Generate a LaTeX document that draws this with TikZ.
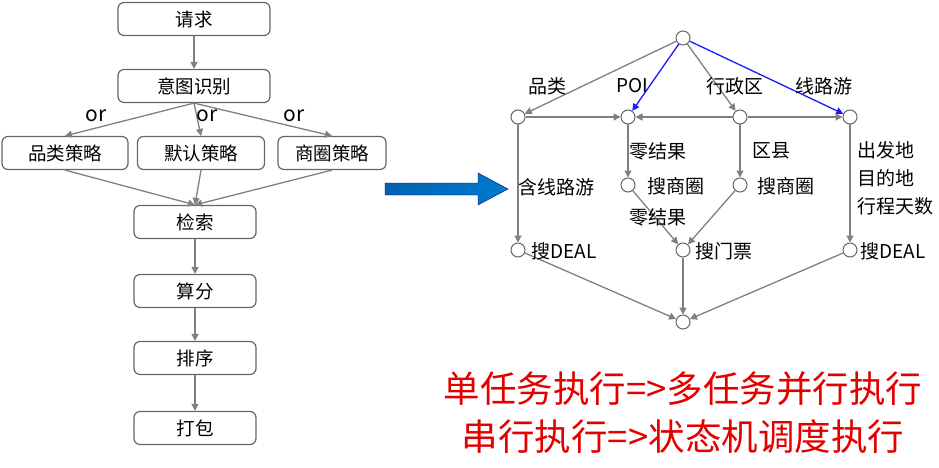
\documentclass[tikz,border=0pt]{standalone}
\usepackage{fontspec}
\setmainfont{Noto Sans CJK SC}
\usetikzlibrary{arrows.meta}
\begin{document}
\begin{tikzpicture}[x=1pt,y=-1pt,
  box/.style={draw=gray!80!black,rounded corners=6pt,line width=1.2pt,minimum height=33pt,font=\fontsize{18.5}{20}\selectfont,inner sep=0pt},
  arr/.style={draw=gray,line width=1.3pt,-{Triangle[length=7pt,width=7pt]}},
  barr/.style={draw=blue!90,line width=1.3pt,-{Triangle[length=7pt,width=7pt]}},
  dot/.style={circle,draw=gray!80!black,line width=1pt,fill=white,minimum size=14pt,inner sep=0pt},
  lab/.style={font=\fontsize{19}{21}\selectfont,inner sep=1pt},
  red/.style={text=red!90!black,font=\fontsize{36.5}{40}\selectfont}]
\useasboundingbox (0,0) rectangle (939,468);
\node[box,minimum width=152pt] (q) at (194,19) {请求};
\node[box,minimum width=152pt] (y) at (194,86) {意图识别};
\node[box,minimum width=126pt] (p) at (65,153) {品类策略};
\node[box,minimum width=127pt] (m) at (201,153) {默认策略};
\node[box,minimum width=108pt] (s) at (332,153) {商圈策略};
\node[box,minimum width=122pt] (j) at (195,222) {检索};
\node[box,minimum width=122pt] (f) at (195,291) {算分};
\node[box,minimum width=122pt] (x) at (195,358) {排序};
\node[box,minimum width=122pt] (d) at (195,428) {打包};
\draw[arr] (q) -- (y);
\draw[arr] (y.south) -- (p.north);
\draw[arr] (y.south) -- (m.north);
\draw[arr] (y.south) -- (s.north);
\draw[arr] (p.south) -- (j.north);
\draw[arr] (m.south) -- (j.north);
\draw[arr] (s.south) -- (j.north);
\draw[arr] (j) -- (f);
\draw[arr] (f) -- (x);
\draw[arr] (x) -- (d);
\node[font=\fontsize{21}{22}\selectfont] (o1) at (96,116) {or};
\node[font=\fontsize{21}{22}\selectfont] (o2) at (207,116) {or};
\node[font=\fontsize{21}{22}\selectfont] (o3) at (294,116) {or};
% big arrow
\shade[left color=blue!45!cyan!70!black,right color=cyan!60!blue!80!black,draw=blue!50!black,line width=0.4pt]
 (385,183) -- (478,183) -- (478,173) -- (508,189) -- (478,205) -- (478,195) -- (385,195) -- cycle;
% graph
\node[dot] (t) at (683,38) {};
\node[dot] (A) at (518,117) {};
\node[dot] (B) at (628,117) {};
\node[dot] (C) at (740,117) {};
\node[dot] (D) at (850,117) {};
\node[dot] (B2) at (628,185) {};
\node[dot] (C2) at (740,185) {};
\node[dot] (A2) at (518,250) {};
\node[dot] (M) at (683,250) {};
\node[dot] (D2) at (850,250) {};
\node[dot] (E) at (683,322) {};
\draw[arr] (t) -- (A);
\draw[barr] (t) -- (B);
\draw[arr] (t) -- (C);
\draw[barr] (t) -- (D);
\draw[arr] (A) -- (B);
\draw[arr] (C) -- (B);
\draw[arr] (C) -- (D);
\draw[arr] (B) -- (B2);
\draw[arr] (C) -- (C2);
\draw[arr] (A) -- (A2);
\draw[arr] (B2) -- (M);
\draw[arr] (C2) -- (M);
\draw[arr] (D) -- (D2);
\draw[arr] (A2) -- (E);
\draw[arr] (M) -- (E);
\draw[arr] (D2) -- (E);
\node[lab] (l1) at (547,86) {品类};
\node[lab] (l2) at (632,86) {POI};
\node[lab] (l3) at (735,86) {行政区};
\node[lab] (l4) at (824,86) {线路游};
\node[lab] (l5) at (658,151) {零结果};
\node[lab] (l6) at (771,151) {区县};
\node[lab] (l7) at (676,186) {搜商圈};
\node[lab] (l8) at (786,186) {搜商圈};
\node[lab] (l9) at (556,187) {含线路游};
\node[lab] (l10) at (658,217) {零结果};
\node[lab] (l11) at (564,251) {搜DEAL};
\node[lab] (l12) at (724,251) {搜门票};
\node[lab] (l13) at (893,251) {搜DEAL};
\node[lab,align=left,font=\fontsize{19}{28}\selectfont] (l14) at (895,178) {出发地\\目的地\\行程天数};
\node[red] (r1) at (683,389) {单任务执行=>多任务并行执行};
\node[red] (r2) at (683,437) {串行执行=>状态机调度执行};
\end{tikzpicture}
\end{document}
